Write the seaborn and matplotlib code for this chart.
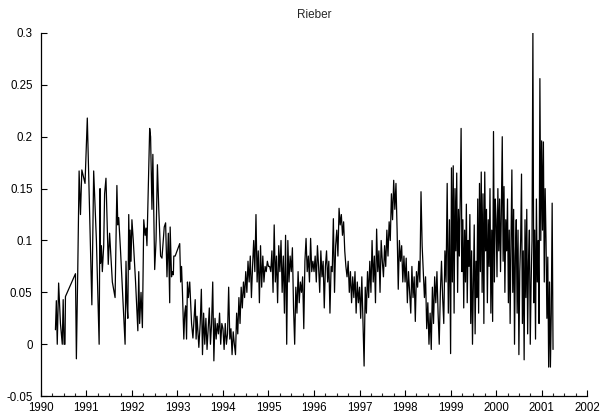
import numpy as np
import pandas as pd
import matplotlib
matplotlib.use("Agg")
import matplotlib.pyplot as plt
import seaborn as sns
from matplotlib.ticker import MultipleLocator, FuncFormatter

# early, irregular observations (decimal year, value)
early_t = [1990.32, 1990.34, 1990.36, 1990.39, 1990.43, 1990.47, 1990.49, 1990.51, 1990.53, 1990.54,
           1990.76, 1990.78, 1990.81, 1990.84, 1990.87, 1990.90, 1990.97, 1991.02, 1991.12, 1991.16,
           1991.22, 1991.28, 1991.30, 1991.31, 1991.33, 1991.35, 1991.38, 1991.40, 1991.43, 1991.48,
           1991.51, 1991.57, 1991.63, 1991.67, 1991.69, 1991.71, 1991.75, 1991.85, 1991.87, 1991.89,
           1991.91, 1991.93, 1991.95, 1991.96, 1991.98, 1992.00, 1992.03, 1992.08, 1992.13, 1992.15,
           1992.17, 1992.20, 1992.23, 1992.26, 1992.29, 1992.31, 1992.33, 1992.36, 1992.39, 1992.41,
           1992.44, 1992.46, 1992.50, 1992.53, 1992.56, 1992.59, 1992.63, 1992.66, 1992.71, 1992.74,
           1992.77, 1992.80, 1992.83, 1992.84, 1992.87, 1992.89, 1992.91, 1992.92, 1992.95, 1993.05,
           1993.07, 1993.09, 1993.11, 1993.14, 1993.16, 1993.18, 1993.20, 1993.22, 1993.24, 1993.27,
           1993.31, 1993.34, 1993.39, 1993.41, 1993.43, 1993.47]
early_v = [0.014, 0.042, 0.0, 0.059, 0.02, 0.0, 0.043, 0.0, 0.0, 0.046,
           0.068, -0.014, 0.07, 0.167, 0.125, 0.168, 0.155, 0.218, 0.038, 0.167,
           0.1, 0.0, 0.15, 0.078, 0.095, 0.07, 0.095, 0.145, 0.16, 0.077,
           0.107, 0.06, 0.045, 0.153, 0.115, 0.122, 0.09, 0.0, 0.08, 0.04,
           0.025, 0.125, 0.072, 0.11, 0.08, 0.12, 0.1, 0.06, 0.013, 0.07,
           0.02, 0.05, 0.016, 0.12, 0.105, 0.112, 0.095, 0.15, 0.208, 0.2,
           0.13, 0.183, 0.072, 0.1, 0.173, 0.13, 0.085, 0.083, 0.113, 0.117,
           0.065, 0.107, 0.04, 0.113, 0.065, 0.07, 0.067, 0.085, 0.085, 0.097,
           0.06, 0.075, 0.05, 0.005, 0.03, 0.037, 0.005, 0.06, 0.045, 0.06,
           0.02, 0.006, 0.043, 0.005, 0.027, -0.003]

# later, regularly sampled observations
v_1993 = [0.02, 0.053, -0.01, 0.03, 0.0, 0.025, -0.005, 0.015, 0.035, 0.0,
          0.02, 0.06, -0.016, 0.025, 0.005, 0.02, 0.01, 0.03, 0.0, 0.02]
v_1994 = [0.015, -0.005, 0.02, 0.0, 0.01, 0.055, 0.005, 0.015, -0.01, 0.012,
          0.0, -0.01, 0.03, 0.01, 0.045, 0.02, 0.055, 0.035, 0.06, 0.045,
          0.07, 0.05, 0.08, 0.06, 0.085, 0.045, 0.075, 0.1, 0.07, 0.125,
          0.06, 0.09, 0.04, 0.095, 0.055, 0.085, 0.06, 0.075, 0.07, 0.08]
v_1995 = [0.075, 0.075, 0.07, 0.09, 0.05, 0.115, 0.06, 0.085, 0.04, 0.095,
          0.07, 0.1, 0.05, 0.085, 0.03, 0.105, 0.0, 0.1, 0.06, 0.085,
          0.07, 0.093, 0.035, 0.0, 0.055, 0.03, 0.07, 0.04, 0.06, 0.05,
          0.065, 0.015, 0.08, 0.102, 0.07, 0.085, 0.06, 0.102, 0.07, 0.08]
v_1996 = [0.07, 0.085, 0.06, 0.095, 0.075, 0.05, 0.09, 0.065, 0.08, 0.035,
          0.075, 0.09, 0.06, 0.08, 0.03, 0.075, 0.07, 0.121, 0.05, 0.095,
          0.11, 0.085, 0.131, 0.115, 0.125, 0.105, 0.118, 0.09, 0.075, 0.065,
          0.08, 0.05, 0.07, 0.04, 0.065, 0.045, 0.07, 0.03, 0.06, 0.04]
v_1997 = [0.055, 0.025, 0.065, 0.02, -0.021, 0.055, 0.03, 0.07, 0.045, 0.08,
          0.05, 0.1, 0.06, 0.085, 0.04, 0.111, 0.07, 0.09, 0.05, 0.1,
          0.08, 0.065, 0.095, 0.075, 0.11, 0.085, 0.118, 0.1, 0.145, 0.12,
          0.158, 0.13, 0.155, 0.11, 0.053, 0.1, 0.08, 0.095, 0.06, 0.085]
v_1998 = [0.06, 0.083, 0.04, 0.07, 0.05, 0.03, 0.075, 0.045, 0.065, 0.022,
          0.07, 0.055, 0.08, 0.06, 0.147, 0.095, 0.07, 0.045, 0.065, 0.015,
          0.04, 0.0, 0.03, -0.005, 0.055, 0.02, 0.065, 0.04, 0.07, 0.03,
          0.0, 0.05, 0.08, 0.045, 0.02, 0.09, 0.06, 0.155, 0.03, 0.12]
v_1999 = [-0.009, 0.17, 0.06, 0.172, 0.03, 0.15, 0.09, 0.165, 0.05, 0.13,
          0.085, 0.14, 0.208, 0.07, 0.12, 0.035, 0.11, 0.06, 0.135, 0.04,
          0.1, 0.075, 0.125, 0.02, 0.09, 0.0, 0.06, 0.115, 0.01, 0.08,
          0.045, 0.14, 0.03, 0.155, 0.07, 0.166, 0.05, 0.145, 0.02, 0.166,
          0.09, 0.13, 0.04, 0.12, 0.075, 0.15, 0.03, 0.11, 0.022, 0.205,
          0.06, 0.14]
v_2000 = [0.12, 0.065, 0.15, 0.09, 0.14, 0.07, 0.13, 0.2, 0.08, 0.152,
          0.05, 0.12, 0.09, 0.14, 0.04, 0.11, 0.02, 0.1, 0.168, 0.05,
          0.13, 0.0, 0.085, 0.12, 0.03, 0.11, -0.01, 0.07, 0.1, 0.164,
          0.02, 0.09, -0.015, 0.12, 0.045, 0.13, 0.01, 0.08, 0.11, 0.0,
          0.06, 0.1, 0.3, 0.04, 0.11, 0.005, 0.14, 0.06, 0.1, 0.02,
          0.256, 0.1]
v_2001 = [0.196, 0.11, 0.195, 0.06, 0.15, 0.1, 0.025, 0.084, -0.022, 0.06,
          -0.022, 0.03, 0.136, -0.005]
starts = [1993.5, 1994.0, 1995.0, 1996.0, 1997.0, 1998.0, 1999.0, 2000.0, 2001.0]
per_year = [40, 40, 40, 40, 40, 40, 52, 52, 52]
blocks = [v_1993, v_1994, v_1995, v_1996, v_1997, v_1998, v_1999, v_2000, v_2001]

late_t, late_v = [], []
for s, n, vals in zip(starts, per_year, blocks):
    late_t += list(s + np.arange(len(vals)) / n)
    late_v += vals

df = pd.DataFrame({"year": early_t + late_t, "value": early_v + late_v})

sns.set_style("ticks")
plt.rcParams['font.family'] = ['Liberation Sans', 'DejaVu Sans']

fig = plt.figure(figsize=(6.01, 4.17), dpi=100)
ax = fig.add_axes([0.068, 0.050, 0.909, 0.871])
sns.lineplot(data=df, x="year", y="value", sort=False, estimator=None,
             color="black", linewidth=0.9, ax=ax)

ax.set_xlim(1990, 2002)
ax.set_ylim(-0.05, 0.3)
ax.xaxis.set_major_locator(MultipleLocator(1))
ax.xaxis.set_minor_locator(MultipleLocator(0.25))
ax.yaxis.set_major_locator(MultipleLocator(0.05))
ax.xaxis.set_major_formatter(FuncFormatter(lambda v, p: "%d" % round(v)))
ax.yaxis.set_major_formatter(FuncFormatter(lambda v, p: "%g" % round(v, 2)))
ax.tick_params(axis="both", which="major", direction="in", length=4, width=0.8,
               labelsize=8.3, colors="black")
ax.tick_params(axis="x", which="major", pad=4)
ax.tick_params(axis="y", which="major", pad=6)
ax.tick_params(axis="x", which="minor", direction="in", length=2.5, width=0.8)
ax.set_xlabel("")
ax.set_ylabel("")
ax.set_title("Rieber", fontsize=8.5, pad=11)
sns.despine(ax=ax)
for sp in ["left", "bottom"]:
    ax.spines[sp].set_color("black")
    ax.spines[sp].set_linewidth(0.9)

fig.savefig("out.png", dpi=100)
